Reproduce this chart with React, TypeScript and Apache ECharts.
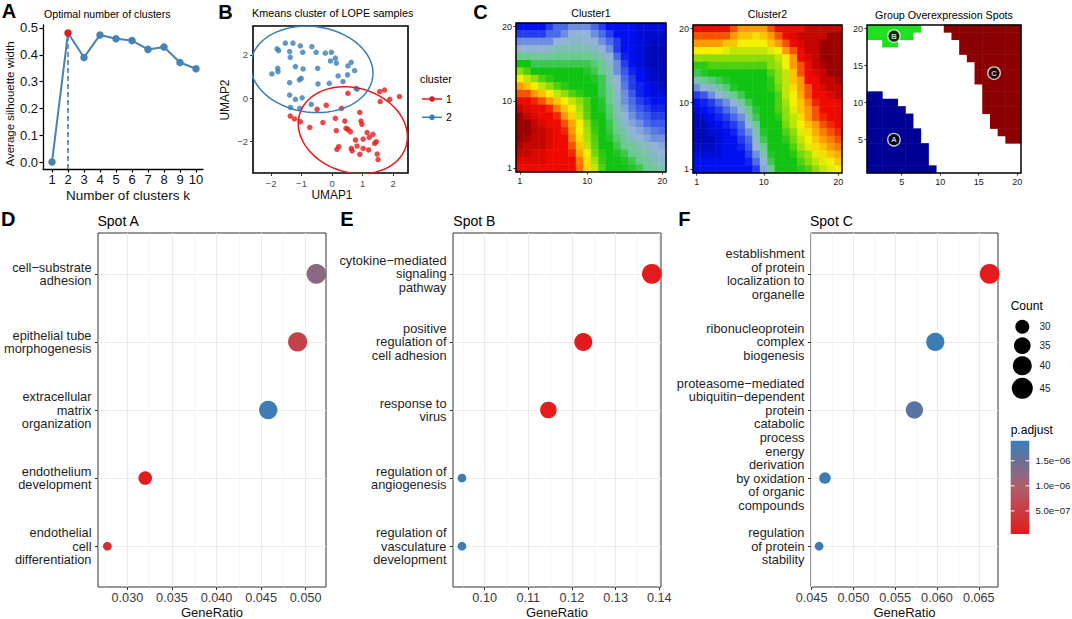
import React, { useEffect, useRef } from "react";
import * as echarts from "echarts";

const FONT = '"Liberation Sans", Arial, Helvetica, sans-serif';
const MINUS = "\u2212";

// ---------------- Panel A ----------------
const clusterK = [1, 2, 3, 4, 5, 6, 7, 8, 9, 10];
const silhouetteWidth = [0, 0.481, 0.39, 0.474, 0.46, 0.453, 0.42, 0.429, 0.371, 0.348];
const silhouetteTicks = [0, 0.1, 0.2, 0.3, 0.4, 0.5];
const optimalK = 2;

// ---------------- Panel B ----------------
const umapCluster1 = [
  [-1.37, -0.82], [-1.23, -0.95], [-1.04, -1.08], [-0.73, -1.34], [-0.49, -0.51], [-0.3, -1.12],
  [-0.19, -0.32], [0.11, -0.92], [0.14, -1.49], [0.16, -2.35], [0.22, -2.23], [0.31, -0.46],
  [0.42, -1.05], [0.46, -1.38], [0.52, -1.43], [0.6, -1.54], [0.63, -2.31], [0.66, -2.42],
  [0.77, -1.92], [0.82, -2.2], [0.91, -0.65], [0.95, -1.05], [0.98, -1.2], [1.02, -1.88],
  [1.02, -2.31], [1.15, -1.58], [1.2, -2.38], [1.22, -1.8], [1.34, -1.66], [1.4, -2.08],
  [1.45, -2.0], [1.48, -2.57], [1.51, -2.82], [1.56, 0.31], [1.58, -0.15], [1.72, 0.38],
  [1.89, -0.05], [2.21, 0.08], [0.52, 0.23], [0.91, -2.58],
];
const umapCluster2 = [
  [-1.97, 1.12], [-1.8, 2.28], [-1.75, 2.2], [-1.78, 1.38], [-1.77, 1.23], [-1.53, 2.54],
  [-1.39, 2.15], [-1.37, 1.89], [-1.28, 2.54], [-1.2, 1.46], [-1.39, 0.72], [-1.04, 2.42],
  [-0.96, 2.12], [-0.95, 1.35], [-1.07, 0.85], [-1.01, 0.92], [-1.39, 0.15], [-1.2, -0.05],
  [-0.98, 0.02], [-1.36, -0.42], [-1.06, -0.46], [-0.66, 2.38], [-0.52, 2.12], [-0.47, 1.38],
  [-0.46, 0.66], [-0.22, 2.08], [-0.09, 0.69], [-0.05, 1.72], [-0.02, 2.12], [0.11, 1.85],
  [0.14, 1.62], [0.2, 1.03], [0.36, 0.77], [0.51, 1.08], [0.52, 1.49], [0.63, 1.66],
  [0.74, 1.28], [0.79, 0.46], [0.82, 0.42], [-0.68, -0.28],
];
const umapXTicks = [-2, -1, 0, 1, 2];
const umapYTicks = [-2, 0, 2];
const clusterNames = ["1", "2"];

// ---------------- Panel C ----------------
const somCats = ["1", "2", "3", "4", "5", "6", "7", "8", "9", "10", "11", "12", "13", "14", "15", "16", "17", "18", "19", "20"];
const somTicks = [1, 10, 20];
const groupTicks = [5, 10, 15, 20];
// rows listed from y = 20 (top) down to y = 1 (bottom)
const cluster1Rows = [
  [1, 1, 1, 1, 1.5, 2, 2, 2.5, 2.5, 2.5, 2, 1.5, 1, 1, 1, 1, 0.8, 0.8, 0.8, 0.8],
  [1.5, 1.5, 1.5, 1.5, 2, 2, 2.5, 3, 3, 3, 2.5, 2, 1.5, 1, 1, 1, 0.8, 0.7, 0.7, 0.7],
  [2.5, 2.5, 2.5, 2.5, 2.5, 3, 3, 3.2, 3.2, 3, 3, 2.5, 2, 1.5, 1, 1, 0.8, 0.7, 0.6, 0.6],
  [3, 3, 3, 3, 3.2, 3.5, 3.5, 3.5, 3.5, 3.5, 3.2, 3, 2.5, 1.5, 1, 1, 0.8, 0.6, 0.5, 0.5],
  [4, 4, 3.8, 3.8, 3.8, 4, 4, 4, 4, 4, 3.8, 3.5, 3, 2, 1.2, 1, 0.8, 0.6, 0.5, 0.5],
  [5, 5, 4.5, 4.5, 4.5, 4.5, 4.5, 4.5, 4.5, 4.5, 4.2, 4, 3.2, 2.5, 1.5, 1, 0.8, 0.6, 0.5, 0.5],
  [6, 5.5, 5, 5, 5, 5, 5, 5, 5, 4.8, 4.5, 4, 3.5, 2.5, 1.8, 1.2, 1, 0.8, 0.6, 0.5],
  [7, 6.5, 6, 5.5, 5.2, 5, 5, 5, 5, 5, 4.8, 4.5, 3.5, 3, 2, 1.5, 1, 0.8, 0.6, 0.5],
  [8, 7.5, 7, 6.5, 6, 5.5, 5.2, 5, 5, 5, 5, 4.5, 3.8, 3, 2.2, 1.5, 1.2, 1, 0.8, 0.6],
  [8.5, 8.5, 8, 7.5, 7, 6.5, 6, 5.5, 5.2, 5, 5, 4.5, 4, 3.2, 2.5, 1.8, 1.2, 1, 0.8, 0.8],
  [9, 9, 8.8, 8.5, 8, 7.5, 7, 6.5, 6, 5.5, 5, 4.8, 4, 3.2, 2.5, 2, 1.5, 1.2, 1, 1],
  [9.5, 9.2, 9, 9, 8.8, 8.2, 7.5, 7, 6.3, 5.5, 5, 4.8, 4.2, 3.5, 2.8, 2.2, 1.8, 1.5, 1.2, 1.2],
  [10, 9.5, 9.2, 9, 9, 8.8, 8, 7.3, 6.5, 5.6, 5, 5, 4.3, 3.5, 3, 2.5, 2, 1.8, 1.5, 1.5],
  [10, 10, 9.5, 9.2, 9, 9, 8.5, 7.8, 7, 6, 5.2, 5, 4.5, 3.8, 3.2, 2.8, 2.5, 2, 1.8, 1.8],
  [10, 10, 9.6, 9.5, 9.2, 9, 8.8, 8, 7, 6.2, 5.3, 5, 4.6, 4, 3.5, 3, 2.8, 2.5, 2.2, 2],
  [10, 9.8, 9.5, 9.5, 9.2, 9, 9, 8.2, 7.2, 6.3, 5.5, 5, 4.8, 4.2, 3.8, 3.3, 3, 2.8, 2.5, 2.5],
  [9.8, 9.5, 9.5, 9.5, 9.2, 9, 9, 8.5, 7.5, 6.5, 5.6, 5, 5, 4.5, 4, 3.8, 3.5, 3.2, 3, 2.8],
  [9.5, 9.5, 9.2, 9.2, 9, 9, 9, 8.8, 7.8, 7, 5.8, 5.2, 5, 4.8, 4.5, 4, 3.8, 3.5, 3.2, 3],
  [9.2, 9.2, 9.2, 9.2, 9, 9, 9, 9, 8.2, 7.2, 6.2, 5.3, 5, 5, 4.8, 4.5, 4, 3.8, 3.5, 3.2],
  [9, 9, 9, 9, 9, 9, 9, 9, 8.3, 7.3, 6.5, 5.5, 5, 5, 5, 4.8, 4.5, 4, 3.8, 3.5],
];
const cluster2Rows = [
  [9, 9, 9, 9, 9, 8.5, 8, 8, 8, 8, 8.5, 9, 9, 9, 9, 9.5, 9.5, 9.5, 9.5, 9.5],
  [8.5, 8.5, 8.5, 8.5, 8.5, 8, 7.5, 7.5, 7.2, 7.5, 8, 8.5, 9, 9.2, 9.5, 9.5, 9.5, 9.5, 10, 10],
  [8, 8, 8, 8, 7.5, 7.5, 7, 7, 7, 7, 7.5, 8, 8.5, 9, 9.2, 9.5, 9.5, 10, 10, 10],
  [7, 7, 7, 7, 6.8, 6.5, 6.5, 6.5, 6.5, 6.5, 6.8, 7, 8, 8.5, 9, 9.5, 9.5, 10, 10, 10],
  [6, 6, 6, 6, 6, 6, 6, 6, 6, 6, 6, 6.5, 7, 8, 9, 9.2, 9.5, 10, 10, 10],
  [5.2, 5.2, 5.5, 5.5, 5.5, 5.5, 5.5, 5.5, 5.5, 5.5, 6, 6.2, 7, 8, 8.5, 9, 9.5, 9.8, 10, 10],
  [4.5, 4.8, 5, 5, 5, 5, 5, 5, 5, 5, 5.5, 6, 6.5, 7.5, 8.5, 9, 9.2, 9.5, 10, 10],
  [3.5, 4, 4.2, 4.5, 4.8, 5, 5, 5, 5, 5, 5.2, 6, 6.5, 7.5, 8, 9, 9, 9.5, 9.5, 9.8],
  [2.5, 3, 3.2, 3.8, 4.2, 4.8, 5, 5, 5, 5, 5.2, 5.8, 6.5, 7.2, 8, 8.5, 9, 9.2, 9.5, 9.5],
  [1.5, 1.8, 2.5, 3, 3.5, 4, 4.5, 5, 5, 5, 5, 5.5, 6.5, 7, 7.8, 8.5, 9, 9, 9.2, 9.5],
  [1, 1.2, 1.5, 2, 2.5, 3, 3.8, 4.5, 5, 5, 5, 5.5, 6.2, 7, 7.5, 8.2, 8.8, 9, 9, 9],
  [0.8, 1, 1.2, 1.5, 2, 2.5, 3, 4, 4.8, 5, 5, 5.5, 6, 6.8, 7.5, 8, 8.5, 9, 9, 9],
  [0.5, 0.8, 1, 1.2, 1.5, 2, 2.5, 3.5, 4.5, 5, 5, 5.2, 6, 6.5, 7.2, 8, 8.5, 8.8, 9, 9],
  [0.5, 0.5, 0.8, 1, 1.2, 1.5, 2, 3, 4, 5, 5, 5, 5.8, 6.5, 7, 7.5, 8, 8.5, 8.8, 9],
  [0.5, 0.5, 0.8, 0.8, 1, 1.2, 1.8, 2.5, 3.5, 4.8, 5, 5, 5.5, 6, 6.8, 7.2, 7.8, 8.2, 8.5, 8.8],
  [0.5, 0.5, 0.5, 0.8, 1, 1, 1.5, 2, 3.2, 4.5, 5, 5, 5.2, 5.8, 6.5, 7, 7.5, 8, 8.2, 8.5],
  [0.6, 0.6, 0.6, 0.8, 1, 1, 1.2, 1.8, 3, 4, 5, 5, 5, 5.5, 6.2, 6.8, 7.2, 7.5, 8, 8.2],
  [0.8, 0.8, 0.8, 0.8, 1, 1, 1, 1.5, 2.5, 3.5, 4.8, 5, 5, 5.2, 5.8, 6.2, 6.8, 7.2, 7.5, 7.8],
  [1, 1, 1, 1, 1, 1, 1, 1.2, 2, 3, 4.5, 5, 5, 5, 5.5, 6, 6.5, 6.8, 7, 7.5],
  [1, 1, 1, 1, 1, 1, 1, 1, 1.5, 2.8, 4, 5, 5, 5, 5.2, 5.5, 6, 6.5, 6.8, 7],
];
// Spot A: for x = 1..9 the cells y = 1..top belong to spot A
const spotAColumnTop = [11, 11, 10, 10, 9, 8, 6, 4, 1];
// Spot B: rows y with x ranges
const spotBRowY = [20, 19, 18];
const spotBFrom = [1, 1, 3];
const spotBTo = [7, 6, 4];
// Spot C: for y = 20 down to 5, cells x = start..20
const spotCRowStart = [11, 12, 13, 13, 14, 15, 15, 15, 16, 16, 16, 16, 17, 17, 18, 19];
const spotNames = ["A", "B", "C"];
const spotLabelX = [4, 4, 17];
const spotLabelY = [5, 19, 14];

// ---------------- Panels D-F ----------------
const spotATerms = [
  "cell\u2212substrate\nadhesion",
  "epithelial tube\nmorphogenesis",
  "extracellular\nmatrix\norganization",
  "endothelium\ndevelopment",
  "endothelial\ncell\ndifferentiation",
];
const spotARatio = [0.0512, 0.0491, 0.0458, 0.032, 0.02775];
const spotACount = [45, 43, 40, 28, 24];
const spotAPadj = [1.25e-6, 6.0e-7, 1.85e-6, 5e-8, 3.2e-7];
const spotATicks = [0.03, 0.035, 0.04, 0.045, 0.05];
const spotAMinor = [0.0275, 0.0325, 0.0375, 0.0425, 0.0475];

const spotBTerms = [
  "cytokine\u2212mediated\nsignaling\npathway",
  "positive\nregulation of\ncell adhesion",
  "response to\nvirus",
  "regulation of\nangiogenesis",
  "regulation of\nvasculature\ndevelopment",
];
const spotBRatio = [0.1383, 0.1226, 0.1146, 0.0948, 0.0948];
const spotBCount = [32, 29, 27, 22, 22];
const spotBPadj = [4e-8, 6e-8, 5e-8, 1.86e-6, 1.87e-6];
const spotBTicks = [0.1, 0.11, 0.12, 0.13, 0.14];
const spotBMinor = [0.095, 0.105, 0.115, 0.125, 0.135];

const spotCTerms = [
  "establishment\nof protein\nlocalization to\norganelle",
  "ribonucleoprotein\ncomplex\nbiogenesis",
  "proteasome\u2212mediated\nubiquitin\u2212dependent\nprotein\ncatabolic\nprocess",
  "energy\nderivation\nby oxidation\nof organic\ncompounds",
  "regulation\nof protein\nstability",
];
const spotCRatio = [0.0663, 0.0598, 0.0573, 0.0466, 0.0459];
const spotCCount = [45, 41, 39, 31, 30];
const spotCPadj = [5e-8, 1.85e-6, 1.65e-6, 1.86e-6, 1.88e-6];
const spotCTicks = [0.045, 0.05, 0.055, 0.06, 0.065];
const spotCMinor = [0.0475, 0.0525, 0.0575, 0.0625];

const countLegend = [30, 35, 40, 45];
const padjTicks = [5e-7, 1e-6, 1.5e-6];
const padjLabels = ["5.0e\u221207", "1.0e\u221206", "1.5e\u221206"];
const padjMin = 4e-8;
const padjMax = 1.9e-6;

// ---------------- styling ----------------
const HEAT_COLORS = ["#000080", "#0010F0", "#4A6AE8", "#92B2D6", "#6ACB8E", "#12C412", "#8EDC0A", "#F4F000", "#FF9A00", "#EE0A00", "#9A0000"];
const RED = "#E41A1C";
const BLUE = "#377EB8";
const STEEL = "#4682B4";
const PADJ_COLORS = [RED, "#AF5E6A", BLUE];

// robust multivariate-t location/scatter (as MASS::cov.trob, nu = 5)
function covTrob(points: number[][], nu = 5, maxit = 25, tol = 0.01) {
  const n = points.length, p = 2;
  let lx = 0, ly = 0;
  points.forEach(([x, y]) => { lx += x; ly += y; });
  lx /= n; ly /= n;
  let w = points.map(() => 1);
  let X = points.map(([x, y]) => [x - lx, y - ly]);
  for (let it = 0; it < maxit; it++) {
    const w0 = w.slice();
    X = points.map(([x, y]) => [x - lx, y - ly]);
    const sw = w.reduce((a, b) => a + b, 0);
    let a = 0, b = 0, c = 0;
    X.forEach(([dx, dy], i) => { a += (w[i] / sw) * dx * dx; b += (w[i] / sw) * dx * dy; c += (w[i] / sw) * dy * dy; });
    const det = a * c - b * b;
    const ia = c / det, ib = -b / det, ic = a / det;
    w = X.map(([dx, dy]) => {
      const Q = ia * dx * dx + 2 * ib * dx * dy + ic * dy * dy;
      return (nu + p) / (nu + Q);
    });
    const sw2 = w.reduce((s, v) => s + v, 0);
    lx = 0; ly = 0;
    points.forEach(([x, y], i) => { lx += (w[i] * x) / sw2; ly += (w[i] * y) / sw2; });
    if (w.every((v, i) => Math.abs(v - w0[i]) < tol)) break;
  }
  let sxx = 0, sxy = 0, syy = 0;
  X.forEach(([dx, dy], i) => { sxx += w[i] * dx * dx; sxy += w[i] * dx * dy; syy += w[i] * dy * dy; });
  return { center: [lx, ly], cov: [sxx / n, sxy / n, syy / n] };
}

function statEllipse(points: number[][], level = 0.95, segments = 72) {
  const n = points.length;
  const { center, cov } = covTrob(points);
  const [sxx, sxy, syy] = cov;
  const u11 = Math.sqrt(sxx), u12 = sxy / u11, u22 = Math.sqrt(syy - u12 * u12);
  const df2 = n - 1;
  const F = (df2 / 2) * (Math.pow(1 - level, -2 / df2) - 1);
  const r = Math.sqrt(2 * F);
  const out: number[][] = [];
  for (let i = 0; i <= segments; i++) {
    const t = (2 * Math.PI * i) / segments;
    const c = Math.cos(t), s = Math.sin(t);
    out.push([center[0] + r * c * u11, center[1] + r * (c * u12 + s * u22)]);
  }
  return out;
}

function rowsToHeat(rows: number[][]) {
  const out: number[][] = [];
  rows.forEach((row, r) => row.forEach((v, c) => out.push([c, rows.length - 1 - r, v])));
  return out;
}

function groupCells() {
  const out: number[][] = [];
  spotAColumnTop.forEach((top, i) => {
    for (let y = 1; y <= top; y++) out.push([i, y - 1, 1]);
  });
  spotBRowY.forEach((y, i) => {
    for (let x = spotBFrom[i]; x <= spotBTo[i]; x++) out.push([x - 1, y - 1, 2]);
  });
  spotCRowStart.forEach((start, i) => {
    const y = 20 - i;
    for (let x = start; x <= 20; x++) out.push([x - 1, y - 1, 3]);
  });
  return out;
}

function makeSizer(counts: number[]) {
  const lo = Math.min(...counts), hi = Math.max(...counts);
  return (c: number) => 8.7 + 11.1 * Math.sqrt(hi === lo ? 1 : (c - lo) / (hi - lo));
}

const G = {
  A: { left: 43, top: 25, width: 160, height: 144 },
  B: { left: 253, top: 26, width: 155, height: 147 },
  C1: { left: 516, top: 23, width: 150, height: 149 },
  C2: { left: 693, top: 25, width: 149, height: 148 },
  C3: { left: 867, top: 25, width: 154, height: 148 },
  D: { left: 98, top: 233, width: 228, height: 354 },
  E: { left: 453, top: 233, width: 208, height: 354 },
  F: { left: 811, top: 233, width: 187, height: 354 },
};

function txt(text: string, x: number, y: number, o: any = {}) {
  return {
    type: "text",
    x,
    y,
    rotation: o.rotation || 0,
    silent: true,
    z: 100,
    style: {
      text,
      fill: o.color || "#000",
      fontSize: o.size || 11,
      fontFamily: FONT,
      fontWeight: o.bold ? "bold" : "normal",
      align: o.align || "left",
      verticalAlign: "middle",
    },
  };
}

function frame(g: any, color = "#000", w = 1.5) {
  return {
    type: "rect",
    silent: true,
    z: 90,
    shape: { x: g.left, y: g.top, width: g.width, height: g.height },
    style: { fill: "none", stroke: color, lineWidth: w },
  };
}

const fmtMinus = (v: number) => (v < 0 ? MINUS + Math.abs(v) : String(v));

function heatAxis(grid: number, ticks: number[]) {
  const shown = (i: number) => ticks.indexOf(i + 1) >= 0;
  return {
    gridIndex: grid,
    type: "category",
    data: somCats,
    axisLine: { show: false },
    axisTick: { show: true, alignWithLabel: true, length: 2.5, interval: shown, lineStyle: { color: "#333", width: 1 } },
    axisLabel: { interval: shown, fontSize: 9, color: "#222", margin: 4, fontFamily: FONT },
    splitLine: { show: false },
  };
}

function dotXAxis(grid: number, min: number, max: number, ticks: number[], digits: number) {
  return {
    gridIndex: grid,
    type: "value",
    min,
    max,
    axisLine: { show: false, onZero: false },
    axisTick: { show: true, length: 3, customValues: ticks, lineStyle: { color: "#333", width: 1 } },
    axisLabel: { customValues: ticks, formatter: (v: number) => v.toFixed(digits), fontSize: 12.7, color: "#3a3a3a", margin: 4.5, fontFamily: FONT },
    splitLine: { show: true, lineStyle: { color: "#EBEBEB", width: 1.1 } },
  };
}

function minorXAxis(grid: number, min: number, max: number, minor: number[]) {
  return {
    gridIndex: grid,
    type: "value",
    position: "top",
    min,
    max,
    axisLine: { show: false, onZero: false },
    axisTick: { show: false, customValues: minor },
    axisLabel: { show: false, customValues: minor },
    splitLine: { show: true, lineStyle: { color: "#F0F0F0", width: 0.6 } },
  };
}

function dotYAxis(grid: number, terms: string[]) {
  const vals = terms.map((_, i) => i + 1);
  return {
    gridIndex: grid,
    type: "value",
    inverse: true,
    min: 0.4,
    max: 5.6,
    axisLine: { show: false, onZero: false },
    axisTick: { show: true, length: 3, customValues: vals, lineStyle: { color: "#333", width: 1 } },
    axisLabel: {
      customValues: vals,
      formatter: (v: number) => terms[Math.round(v) - 1] || "",
      fontSize: 12.8,
      lineHeight: 13.5,
      color: "#1e1e1e",
      margin: 6.5,
      align: "right",
      fontFamily: FONT,
    },
    splitLine: { show: true, lineStyle: { color: "#EBEBEB", width: 1.1 } },
  };
}

function dotSeries(grid: number, ratio: number[], count: number[], padj: number[]) {
  const sizer = makeSizer(count);
  return {
    type: "scatter",
    xAxisIndex: grid,
    yAxisIndex: grid,
    symbol: "circle",
    symbolSize: (v: number[]) => sizer(v[3]),
    data: ratio.map((r, i) => [r, i + 1, padj[i], count[i]]),
    itemStyle: { opacity: 1 },
    silent: true,
    clip: false,
  };
}

function buildOption() {
  const ell1 = statEllipse(umapCluster1);
  const ell2 = statEllipse(umapCluster2);

  const grids = [G.A, G.B, G.C1, G.C2, G.C3, G.D, G.E, G.F].map((g, i) => ({
    ...g,
    outerBoundsMode: "none",
    containLabel: false,
    show: i >= 5 || i === 1,
    borderColor: i === 1 ? "#000" : "#333",
    borderWidth: i === 1 ? 1.6 : 1,
    backgroundColor: "transparent",
  }));

  const xAxis: any[] = [
    {
      gridIndex: 0, type: "value", min: 0.4375, max: 10.4375,
      axisLine: { show: true, onZero: false, lineStyle: { color: "#000", width: 1.3 } },
      axisTick: { show: true, length: 3.5, customValues: clusterK, lineStyle: { color: "#000", width: 1.2 } },
      axisLabel: { customValues: clusterK, fontSize: 13, color: "#111", margin: 4, fontFamily: FONT },
      splitLine: { show: false },
    },
    {
      gridIndex: 1, type: "value", min: -2.59, max: 2.49,
      axisLine: { show: false, onZero: false },
      axisTick: { show: true, length: 3, customValues: umapXTicks, lineStyle: { color: "#333" } },
      axisLabel: { customValues: umapXTicks, formatter: fmtMinus, fontSize: 9.5, color: "#4D4D4D", margin: 5, fontFamily: FONT },
      splitLine: { show: false },
    },
    heatAxis(2, somTicks),
    heatAxis(3, somTicks),
    heatAxis(4, groupTicks),
    dotXAxis(5, 0.0267, 0.05228, spotATicks, 3),
    dotXAxis(6, 0.09275, 0.1404, spotBTicks, 2),
    dotXAxis(7, 0.04493, 0.0673, spotCTicks, 3),
    minorXAxis(5, 0.0267, 0.05228, spotAMinor),
    minorXAxis(6, 0.09275, 0.1404, spotBMinor),
    minorXAxis(7, 0.04493, 0.0673, spotCMinor),
  ];

  const yAxis: any[] = [
    {
      gridIndex: 0, type: "value", min: -0.026, max: 0.511,
      axisLine: { show: true, onZero: false, lineStyle: { color: "#000", width: 1.3 } },
      axisTick: { show: true, length: 3.5, customValues: silhouetteTicks, lineStyle: { color: "#000", width: 1.2 } },
      axisLabel: { customValues: silhouetteTicks, formatter: (v: number) => v.toFixed(1), fontSize: 13, color: "#111", margin: 5, fontFamily: FONT },
      splitLine: { show: false },
    },
    {
      gridIndex: 1, type: "value", min: -3.44, max: 3.33,
      axisLine: { show: false, onZero: false },
      axisTick: { show: true, length: 3, customValues: umapYTicks, lineStyle: { color: "#333" } },
      axisLabel: { customValues: umapYTicks, formatter: fmtMinus, fontSize: 9.5, color: "#4D4D4D", margin: 5, fontFamily: FONT },
      splitLine: { show: false },
    },
    heatAxis(2, somTicks),
    heatAxis(3, somTicks),
    heatAxis(4, groupTicks),
    dotYAxis(5, spotATerms),
    dotYAxis(6, spotBTerms),
    dotYAxis(7, spotCTerms),
  ];

  const series: any[] = [
    {
      type: "line",
      xAxisIndex: 0,
      yAxisIndex: 0,
      symbol: "circle",
      symbolSize: 7.5,
      showSymbol: true,
      lineStyle: { color: STEEL, width: 2 },
      itemStyle: { color: STEEL },
      data: clusterK.map((k, i) => ({
        value: [k, silhouetteWidth[i]],
        itemStyle: k === optimalK ? { color: RED } : undefined,
      })),
      markLine: {
        silent: true,
        symbol: "none",
        label: { show: false },
        lineStyle: { color: STEEL, type: [5, 3], width: 1.6 },
        data: [[{ coord: [optimalK, -0.026] }, { coord: [optimalK, silhouetteWidth[clusterK.indexOf(optimalK)]] }]],
        z: 1,
      },
      z: 3,
    },
    {
      type: "scatter", xAxisIndex: 1, yAxisIndex: 1, symbol: "circle", symbolSize: 5.5,
      itemStyle: { color: RED }, data: umapCluster1, silent: true,
    },
    {
      type: "scatter", xAxisIndex: 1, yAxisIndex: 1, symbol: "circle", symbolSize: 5.5,
      itemStyle: { color: BLUE }, data: umapCluster2, silent: true,
    },
    {
      type: "line", xAxisIndex: 1, yAxisIndex: 1, showSymbol: false, symbol: "none",
      lineStyle: { color: RED, width: 1.5 }, data: ell1, silent: true, clip: true,
    },
    {
      type: "line", xAxisIndex: 1, yAxisIndex: 1, showSymbol: false, symbol: "none",
      lineStyle: { color: BLUE, width: 1.5 }, data: ell2, silent: true, clip: true,
    },
    { type: "heatmap", xAxisIndex: 2, yAxisIndex: 2, data: rowsToHeat(cluster1Rows), progressive: 0, silent: true },
    { type: "heatmap", xAxisIndex: 3, yAxisIndex: 3, data: rowsToHeat(cluster2Rows), progressive: 0, silent: true },
    { type: "heatmap", xAxisIndex: 4, yAxisIndex: 4, data: groupCells(), progressive: 0, silent: true },
    {
      type: "scatter", xAxisIndex: 4, yAxisIndex: 4, symbol: "circle", symbolSize: 12.5, silent: true,
      itemStyle: { color: "#000", borderColor: "#fff", borderWidth: 1.3 },
      label: { show: true, position: "inside", formatter: "{b}", color: "#fff", fontSize: 7.5, fontWeight: "bold", fontFamily: FONT },
      data: spotNames.map((n, i) => ({ name: n, value: [spotLabelX[i] - 1, spotLabelY[i] - 1] })),
      z: 5,
    },
    dotSeries(5, spotARatio, spotACount, spotAPadj),
    dotSeries(6, spotBRatio, spotBCount, spotBPadj),
    dotSeries(7, spotCRatio, spotCCount, spotCPadj),
  ];

  const visualMap: any[] = [
    { type: "continuous", show: false, seriesIndex: [5, 6], dimension: 2, min: 0, max: 10, inRange: { color: HEAT_COLORS } },
    {
      type: "piecewise", show: false, seriesIndex: 7, dimension: 2,
      pieces: [{ value: 1, color: "#000096" }, { value: 2, color: "#1EE01E" }, { value: 3, color: "#8B0000" }],
    },
    { type: "continuous", show: false, seriesIndex: [9, 10, 11], dimension: 2, min: padjMin, max: padjMax, inRange: { color: PADJ_COLORS } },
  ];

  const g: any[] = [];
  g.push(txt("A", 9, 11, { size: 20, bold: true, align: "center" }));
  g.push(txt("B", 225.5, 11.7, { size: 20, bold: true, align: "center" }));
  g.push(txt("C", 480.5, 11.7, { size: 20, bold: true, align: "center" }));
  g.push(txt("D", 8.3, 218.8, { size: 20, bold: true, align: "center" }));
  g.push(txt("E", 347, 218.8, { size: 20, bold: true, align: "center" }));
  g.push(txt("F", 684.3, 218.8, { size: 20, bold: true, align: "center" }));
  g.push(txt("Optimal number of clusters", 44, 14, { size: 10.6 }));
  g.push(txt("Kmeans cluster of LOPE samples", 252, 13, { size: 10.8 }));
  g.push(txt("Cluster1", G.C1.left + G.C1.width / 2, 12.7, { size: 10.6, align: "center" }));
  g.push(txt("Cluster2", G.C2.left + G.C2.width / 2, 14, { size: 10.6, align: "center" }));
  g.push(txt("Group Overexpression Spots", G.C3.left + G.C3.width / 2, 14.7, { size: 10.7, align: "center" }));
  g.push(txt("Spot A", 97.5, 220.7, { size: 14 }));
  g.push(txt("Spot B", 453.3, 220.7, { size: 14 }));
  g.push(txt("Spot C", 810, 220.7, { size: 14 }));
  g.push(txt("Number of clusters k", 128, 195.5, { size: 13.5, align: "center", color: "#111" }));
  g.push(txt("Average silhouette width", 9.5, 104, { size: 11.5, align: "center", rotation: Math.PI / 2, color: "#111" }));
  g.push(txt("UMAP1", 332, 195, { size: 11.9, align: "center", color: "#111" }));
  g.push(txt("UMAP2", 225, 100, { size: 11.9, align: "center", rotation: Math.PI / 2, color: "#111" }));
  g.push(txt("GeneRatio", G.D.left + G.D.width / 2, 612.5, { size: 13, align: "center", color: "#111" }));
  g.push(txt("GeneRatio", G.E.left + G.E.width / 2, 612.5, { size: 13, align: "center", color: "#111" }));
  g.push(txt("GeneRatio", G.F.left + G.F.width / 2, 612.5, { size: 13, align: "center", color: "#111" }));
  g.push(txt("cluster", 420, 79, { size: 10.8 }));
  [RED, BLUE].forEach((c, i) => {
    const y = 99 + i * 18.3;
    g.push({ type: "line", silent: true, z: 100, shape: { x1: 422, y1: y, x2: 442, y2: y }, style: { stroke: c, lineWidth: 1.5 } });
    g.push({ type: "circle", silent: true, z: 101, shape: { cx: 432, cy: y, r: 2.8 }, style: { fill: c } });
    g.push(txt(clusterNames[i], 446, y, { size: 10.5 }));
  });
  g.push(frame(G.C1, "#000", 1.5));
  g.push(frame(G.C2, "#000", 1.5));
  g.push(frame(G.C3, "#000", 1.5));
  g.push(txt("Count", 1010.7, 306, { size: 12 }));
  const legendY = [326.7, 345.7, 365.7, 388.3];
  countLegend.forEach((c, i) => {
    const d = Math.sqrt(16.33 * c - 294);
    g.push({ type: "circle", silent: true, z: 100, shape: { cx: 1022.3, cy: legendY[i], r: d / 2 }, style: { fill: "#000" } });
    g.push(txt(String(c), 1039.5, legendY[i], { size: 10, color: "#222" }));
  });
  g.push(txt("p.adjust", 1010.7, 430, { size: 12 }));
  const bar = { x: 1010.7, y: 440.7, w: 18.6, h: 93.3 };
  g.push({
    type: "rect", silent: true, z: 100,
    shape: { x: bar.x, y: bar.y, width: bar.w, height: bar.h },
    style: {
      fill: new echarts.graphic.LinearGradient(0, 0, 0, 1, [
        { offset: 0, color: PADJ_COLORS[2] },
        { offset: 0.5, color: PADJ_COLORS[1] },
        { offset: 1, color: PADJ_COLORS[0] },
      ]),
    },
  });
  padjTicks.forEach((p, i) => {
    const y = bar.y + bar.h - ((p - padjMin) / (padjMax - padjMin)) * bar.h;
    g.push({ type: "line", silent: true, z: 101, shape: { x1: bar.x, y1: y, x2: bar.x + 3.7, y2: y }, style: { stroke: "#fff", lineWidth: 1 } });
    g.push({ type: "line", silent: true, z: 101, shape: { x1: bar.x + bar.w - 3.7, y1: y, x2: bar.x + bar.w, y2: y }, style: { stroke: "#fff", lineWidth: 1 } });
    g.push(txt(padjLabels[i], 1035.5, y, { size: 9.6, color: "#222" }));
  });

  return {
    animation: false,
    backgroundColor: "#fff",
    textStyle: { fontFamily: FONT },
    grid: grids,
    xAxis,
    yAxis,
    visualMap,
    series,
    graphic: { elements: g },
  };
}

export default function App() {
  const ref = useRef<HTMLDivElement>(null);
  useEffect(() => {
    document.body.style.margin = "0";
    if (!ref.current) return;
    const chart = echarts.init(ref.current, undefined, { renderer: "svg" });
    chart.setOption(buildOption() as any);
    return () => chart.dispose();
  }, []);
  return <div ref={ref} style={{ width: 1072, height: 619 }} />;
}
